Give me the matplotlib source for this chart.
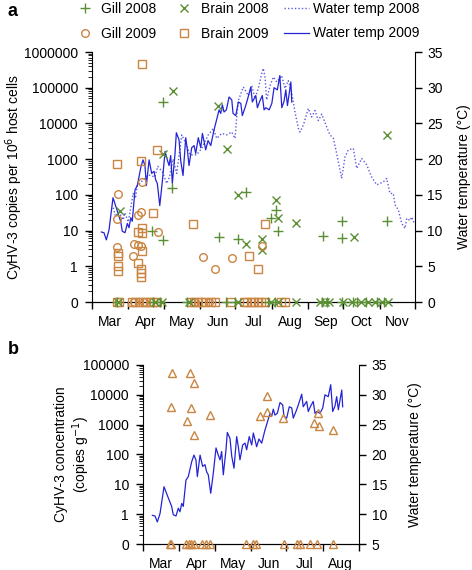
import matplotlib.pyplot as plt
from matplotlib.ticker import FixedLocator, LogLocator, NullFormatter

plt.rcParams['font.family'] = ['Liberation Sans', 'DejaVu Sans']
plt.rcParams['font.size'] = 10

GREEN = '#5b8f34'
ORANGE = '#c98541'
BLUE = '#2424d6'

# x positions are days since 1 March
month_starts = [0, 31, 61, 92, 122, 153, 184, 214, 245, 275]
month_names = ['Mar', 'Apr', 'May', 'Jun', 'Jul', 'Aug', 'Sep', 'Oct', 'Nov']

# ---- panel a : copies per 10^6 host cells (0 values drawn at the "0" row)
gill08_days = [60.7, 68.4, 50.8, 60.7, 108, 124, 131, 157, 152, 158, 197, 212.5, 213, 251]
gill08_vals = [41000, 160, 10, 5.4, 6.8, 5.7, 120, 37, 22, 10, 7, 18, 6.3, 18.5]
gill08_zero = [21, 52, 58, 81, 114, 122, 150, 156, 196, 200, 213, 222, 226, 233, 243, 249]

brain08_days = [68.7, 60.7, 23.8, 107, 114.7, 124, 157, 158, 131, 144.5, 144.5, 173.5, 223, 251]
brain08_vals = [79000, 1400, 35, 30000, 1950, 100, 70, 22, 4.1, 5.7, 2.8, 16, 6.6, 4600]
brain08_zero = [22, 54, 60, 83, 124, 152, 158, 174, 194, 198, 202, 214, 221, 229, 235, 241, 247, 252]

gill09_days = [22.5, 42.3, 21.5, 39.4, 41.7, 55.9, 36, 39, 42, 21.5, 35.2, 94.5, 105, 119, 145]
gill09_vals = [107, 230, 21, 28, 33, 9, 4.1, 4.0, 3.6, 3.5, 1.9, 1.85, 0.82, 1.75, 3.7]
gill09_zero = [36, 44, 88, 100]

brain09_days = [42.3, 21.5, 41.7, 55.6, 51.7, 86.3, 42.3, 38.9, 42.3, 42.8, 38.9, 22.4, 22.4,
                21.9, 21.9, 41.7, 41.7, 41.7, 147, 133.7, 141]
brain09_vals = [450000, 750, 900, 1800, 32, 15, 12, 9, 8.5, 2.7, 1.27, 2.4, 1.9,
                0.99, 0.75, 0.82, 0.64, 0.49, 15.5, 1.9, 0.82]
brain09_zero = [21, 23, 34, 37, 40, 43, 46, 49, 52, 55, 84, 87, 90, 93, 96, 101, 105,
                118, 129, 132, 135, 138, 141, 144, 147, 161, 164]

# water temperature 2008 (dotted)
temp08_days = [18, 20, 23, 26.6, 28, 30.9, 33.8, 35, 37, 38.5, 40.9, 44, 48, 53.6, 56, 60,
               63.6, 66, 69, 72.1, 76.4, 80.6, 83.4, 87.7, 89, 93.4, 99, 103.3, 106.2, 110.4,
               114.7, 118.9, 121.8, 123.2, 124.6, 128.8, 133.1, 136, 138.8, 141.6, 144.5,
               145.8, 147.3, 148.7, 151.6, 154.4, 157.3, 161.5, 164.3, 167.1, 170, 172.8,
               175.7, 177.1, 180, 184.2, 187, 189.9, 192.7, 195.6, 199.8, 202.6, 205.5,
               208.3, 212.6, 215.4, 218.2, 222.5, 225.4, 229.6, 233.9, 238.1, 242.4, 248,
               250.9, 253.7, 256.5, 258, 260.8, 263.7, 266.5, 268, 270.8, 272.2, 274.4]
temp08_vals = [13.2, 12.0, 12.6, 11.5, 12.5, 11.2, 14.0, 15.2, 14.5, 16.3, 16.6, 17.2, 17.8,
               17.5, 19.0, 18.2, 16.6, 17.5, 20.0, 18.0, 23.4, 22.0, 20.6, 20.6, 20.6, 21.5,
               23.4, 24.3, 22.9, 23.6, 23.4, 23.8, 22.9, 25.9, 28.2, 30.1, 28.9, 30.3, 28.5,
               29.9, 32.0, 32.7, 31.5, 28.3, 30.3, 31.5, 30.8, 31.7, 29.9, 31.0, 29.4, 26.6,
               24.3, 23.8, 24.8, 27.1, 25.9, 26.8, 25.4, 26.3, 24.5, 23.4, 22.9, 20.8, 17.3,
               20.3, 21.3, 21.5, 18.7, 20.1, 19.2, 17.5, 16.4, 16.8, 17.3, 15.2, 15.2, 13.6,
               12.9, 11.0, 10.3, 11.7, 11.4, 11.9, 11.0]

# water temperature 2009 (solid), used in both panels
temp09_days = [8, 10.2, 12.2, 14.5, 17.9, 21.6, 24.4, 25.8, 28.1, 30.1, 31.5, 33, 34.3, 36.6,
               38.6, 41.5, 43.4, 45.1, 46.3, 48.6, 50.8, 52.8, 54.2, 55.6, 57.7, 59.9, 62.2,
               64.1, 65.6, 67, 68.4, 70.7, 71.8, 74.1, 75.6, 77.5, 79.8, 81.2, 82.6, 84.9,
               86.9, 88.3, 90.5, 92.6, 94, 95.4, 96.8, 98.8, 101.1, 103.9, 105.3, 108.2,
               109.6, 111, 112.4, 114.4, 116.7, 119, 120.1, 122.4, 124.6, 126.7, 128, 130.3,
               132.3, 135.2, 136.5, 139.4, 140.8, 142.8, 145, 146.5, 148, 150.8, 153.1, 155,
               157.8, 159.9, 161.6, 163.5, 165, 166.4, 169.3, 170.1]
temp09_vals = [9.8, 9.7, 8.7, 10.1, 14.6, 12.7, 11.3, 9.9, 9.7, 11.0, 10.4, 11.8, 11.3, 15.7,
               16.3, 18.8, 19.9, 19.1, 16.3, 19.9, 18.0, 18.3, 17.1, 16.6, 13.5, 16.9, 21.1,
               19.9, 19.1, 20.5, 16.6, 20.8, 23.7, 22.7, 19.7, 17.7, 23.0, 21.3, 19.1, 21.6,
               21.9, 20.8, 23.0, 21.6, 23.6, 22.5, 21.3, 22.6, 21.9, 24.1, 25.0, 26.9, 26.4,
               27.6, 26.6, 26.9, 28.7, 28.3, 26.4, 26.1, 28.0, 27.8, 26.1, 27.2, 28.3, 30.1,
               28.0, 28.9, 27.2, 28.1, 28.9, 26.9, 27.2, 26.9, 27.8, 30.0, 29.7, 31.7, 27.2,
               28.1, 29.7, 27.5, 30.8, 28.0]

# ---- panel b : copies per g
tri_days = [24.4, 40, 43.4, 23.6, 40.6, 37.7, 57, 43.4, 106, 106, 100, 119.5, 148.8, 145.7, 150, 162]
tri_vals = [56000, 54000, 24000, 3800, 3500, 1350, 2100, 460, 8900, 2600, 2000, 1630, 2400, 1120, 870, 680]
tri_zero = [23, 24, 37, 39, 41, 43.4, 50, 53.5, 57, 88, 94, 96, 120, 131, 134, 142, 148, 162]


def setup_time_axis(ax, n):
    ax.set_xlim(0, month_starts[n])
    ax.xaxis.set_major_locator(FixedLocator(month_starts[:n + 1]))
    ax.xaxis.set_major_formatter(NullFormatter())
    mids = [(month_starts[i] + month_starts[i + 1]) / 2 for i in range(n)]
    ax.set_xticks(mids, minor=True)
    ax.set_xticklabels(month_names[:n], minor=True)
    ax.tick_params(axis='x', which='major', direction='out', length=5, width=1)
    ax.tick_params(axis='x', which='minor', length=0, pad=9.5)


def setup_log_axis(ax, top_exp):
    ax.set_yscale('log')
    ax.set_ylim(0.1, 10 ** top_exp)
    ticks = [10.0 ** k for k in range(-1, top_exp + 1)]
    ax.yaxis.set_major_locator(FixedLocator(ticks))
    ax.set_yticklabels(['0'] + [str(10 ** k) for k in range(0, top_exp + 1)])
    ax.yaxis.set_minor_locator(LogLocator(base=10, subs=range(2, 10), numticks=30))
    ax.yaxis.set_minor_formatter(NullFormatter())
    ax.tick_params(axis='y', which='major', direction='out', length=5, width=1, pad=5)
    ax.tick_params(axis='y', which='minor', direction='out', length=3, width=0.6)
    ax.yaxis.set_ticks_position('left')
    ax.spines['top'].set_visible(False)
    ax.spines['right'].set_visible(False)


def setup_temp_axis(ax, lo, pad):
    ax.set_ylim(lo, 35)
    ax.set_yticks(range(lo, 36, 5))
    ax.tick_params(axis='y', direction='out', length=5, width=1, pad=4)
    ax.spines['top'].set_visible(False)
    ax.spines['left'].set_visible(False)
    ax.set_ylabel('Water temperature (°C)', labelpad=pad)


def pts(ax, days, vals, marker, color, size, label=None):
    return ax.plot(days, vals, linestyle='none', marker=marker, ms=size, mfc='none',
                   mec=color, mew=1, clip_on=False, label=label, zorder=5)[0]


fig = plt.figure(figsize=(4.72, 5.70), dpi=100)

# ---------------- panel a
ax = fig.add_axes([92 / 472, 268 / 570, 323 / 472, 250 / 570])
axt = ax.twinx()
ax.set_zorder(axt.get_zorder() + 1)
ax.patch.set_visible(False)

l_w08, = axt.plot(temp08_days, temp08_vals, color=BLUE, lw=1, ls=(0, (1, 1.5)), alpha=0.75,
                  label='Water temp 2008')
l_w09, = axt.plot(temp09_days, temp09_vals, color=BLUE, lw=0.9, label='Water temp 2009')

zero = 0.1
pts(ax, brain09_zero, [zero] * len(brain09_zero), 's', ORANGE, 5.5)
pts(ax, gill09_zero, [zero] * len(gill09_zero), 'o', ORANGE, 5.5)
pts(ax, gill08_zero, [zero] * len(gill08_zero), '+', GREEN, 7)
pts(ax, brain08_zero, [zero] * len(brain08_zero), 'x', GREEN, 5.5)
h_g08 = pts(ax, gill08_days, gill08_vals, '+', GREEN, 7, 'Gill 2008')
h_b08 = pts(ax, brain08_days, brain08_vals, 'x', GREEN, 5.5, 'Brain 2008')
h_g09 = pts(ax, gill09_days, gill09_vals, 'o', ORANGE, 5.5, 'Gill 2009')
h_b09 = pts(ax, brain09_days, brain09_vals, 's', ORANGE, 5.5, 'Brain 2009')

setup_log_axis(ax, 6)
setup_time_axis(ax, 9)
setup_temp_axis(axt, 0, 10)
axt.set_xlim(0, 275)
ax.set_ylabel('CyHV-3 copies per 10$^6$ host cells', labelpad=-1)

fig.legend([h_g08, h_g09, h_b08, h_b09, l_w08, l_w09],
           ['Gill 2008', 'Gill 2009', 'Brain 2008', 'Brain 2009',
            'Water temp 2008', 'Water temp 2009'],
           ncol=3, loc='upper left', bbox_to_anchor=(70 / 472, 1.0), frameon=False,
           handlelength=1.8, handletextpad=0.3, columnspacing=1.1, labelspacing=0.75,
           borderpad=0.15, borderaxespad=0)

fig.text(8 / 472, 1 - 12 / 570, 'a', weight='bold', size=13, va='center')

# ---------------- panel b
bx = fig.add_axes([143 / 472, 26 / 570, 216 / 472, 179 / 570])
bxt = bx.twinx()
bx.set_zorder(bxt.get_zorder() + 1)
bx.patch.set_visible(False)

bxt.plot(temp09_days, temp09_vals, color=BLUE, lw=0.9)
pts(bx, tri_zero, [zero] * len(tri_zero), '^', ORANGE, 5.5)
pts(bx, tri_days, tri_vals, '^', ORANGE, 5.5)

setup_log_axis(bx, 5)
setup_time_axis(bx, 6)
setup_temp_axis(bxt, 5, 15)
bxt.set_xlim(0, 184)
bx.set_ylabel('CyHV-3 concentration\n(copies g$^{-1}$)', labelpad=-7)

fig.text(8 / 472, 1 - 350 / 570, 'b', weight='bold', size=13, va='center')

plt.savefig('out.png', dpi=100)
